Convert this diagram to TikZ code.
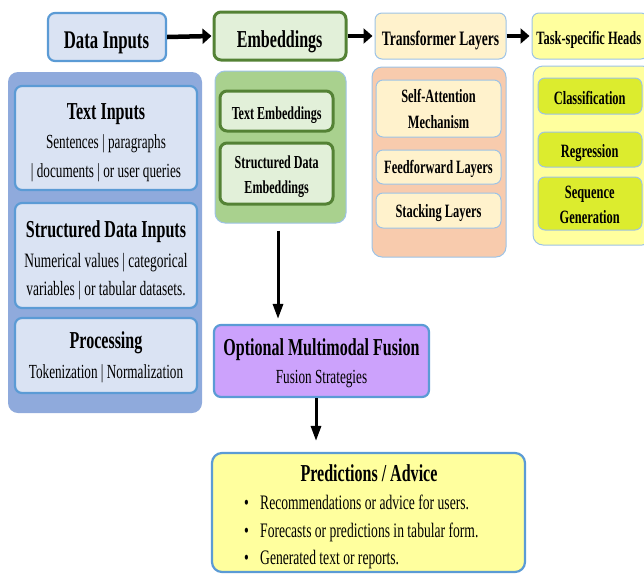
\documentclass[tikz,border=0pt]{standalone}
\usepackage{fontspec}
\setmainfont[FakeStretch=0.66]{Liberation Serif}
\usetikzlibrary{arrows.meta}

\definecolor{blueFill}{HTML}{DAE3F3}
\definecolor{blueLine}{HTML}{5B9BD5}
\definecolor{blueGroup}{HTML}{8FAADC}
\definecolor{paleLine}{HTML}{9DC3E6}
\definecolor{greenFill}{HTML}{E2F0D9}
\definecolor{greenLine}{HTML}{548235}
\definecolor{greenGroup}{HTML}{A9D18E}
\definecolor{creamFill}{HTML}{FFF2CC}
\definecolor{peachGroup}{HTML}{F8CBAD}
\definecolor{lemonFill}{HTML}{FFFF9E}
\definecolor{limeFill}{HTML}{DCEC2E}
\definecolor{violetFill}{HTML}{CCA2FC}

\tikzset{
  box/.style={rounded corners=7pt, inner sep=0pt},
  group/.style={rounded corners=10pt, inner sep=0pt},
  bluebox/.style={box, fill=blueFill, draw=blueLine, line width=2.2pt},
  greenbox/.style={box, fill=greenFill, draw=greenLine, line width=3pt},
  creambox/.style={box, fill=creamFill, draw=paleLine, line width=1pt},
  limebox/.style={box, fill=limeFill, draw=paleLine, line width=1pt},
  % text lines, placed by their baseline
  txt/.style={anchor=base, inner sep=0pt},
  ttl/.style={txt, font=\fontsize{24.3}{28}\selectfont\bfseries},
  sub/.style={txt, font=\fontsize{20}{28}\selectfont},
  sml/.style={txt, font=\fontsize{18.8}{25}\selectfont\bfseries},
  bullet/.style={anchor=base west, inner sep=0pt, font=\fontsize{20.6}{28}\selectfont},
  flow/.style={line width=4.5pt, -{Triangle[length=9pt,width=15pt]}},
  down/.style={line width=3pt, -{Triangle[length=15pt,width=10pt]}},
}

\begin{document}
\begin{tikzpicture}[x=1pt, y=-1pt]
\useasboundingbox (0,0) rectangle (644,574);

% top row of stage headers
\node[box, fill=blueFill, draw=blueLine, line width=2.2pt,
  minimum width=118pt, minimum height=48pt] (datain) at (107,37) {};
\node[txt, font=\fontsize{25.4}{28}\selectfont\bfseries] (datain-t) at (106.5,48) {Data Inputs};
\node[box, fill=greenFill, draw=greenLine, line width=3pt,
  minimum width=132pt, minimum height=48pt] (emb) at (280,36) {};
\node[txt, font=\fontsize{24.3}{28}\selectfont\bfseries] (emb-t) at (279.7,47) {Embeddings};
\node[box, fill=creamFill, draw=paleLine, line width=1pt,
  minimum width=131pt, minimum height=46pt] (trans) at (440.5,36) {};
\node[txt, font=\fontsize{20.5}{24}\selectfont\bfseries] (trans-t) at (440.5,45) {Transformer Layers};
\node[box, fill=lemonFill, draw=paleLine, line width=1pt,
  minimum width=116pt, minimum height=46pt] (task) at (590,36) {};
\node[txt, font=\fontsize{18.8}{24}\selectfont\bfseries] (task-t) at (588.8,44.5) {Task-specific Heads};

% data inputs group
\node[group, fill=blueGroup, minimum width=194pt, minimum height=341pt] (leftc) at (105,242.5) {};
\node[bluebox, minimum width=182pt, minimum height=104pt] (textin) at (106,138) {};
\node[ttl] (textin-t) at (106,119) {Text Inputs};
\node[sub] (textin-1) at (106,148) {Sentences | paragraphs};
\node[sub] (textin-2) at (106,177) {| documents | or user queries};
\node[bluebox, minimum width=182pt, minimum height=105pt] (structin) at (106,255.5) {};
\node[ttl] (structin-t) at (106,237) {Structured Data Inputs};
\node[sub, font=\fontsize{20.4}{28}\selectfont] (structin-1) at (106,267) {Numerical values | categorical};
\node[sub, font=\fontsize{20.4}{28}\selectfont] (structin-2) at (106,295) {variables | or tabular datasets.};
\node[bluebox, minimum width=182pt, minimum height=75pt] (proc) at (106,355.5) {};
\node[ttl] (proc-t) at (106,348) {Processing};
\node[sub] (proc-1) at (106,378) {Tokenization | Normalization};

% embeddings group
\node[group, fill=greenGroup, draw=paleLine, line width=1pt,
  minimum width=131pt, minimum height=152pt] (embc) at (280.5,147) {};
\node[greenbox, minimum width=113pt, minimum height=40pt] (textemb) at (276.5,111) {};
\node[sml, font=\fontsize{18.3}{25}\selectfont\bfseries] (textemb-t) at (276.7,119) {Text Embeddings};
\node[greenbox, minimum width=113pt, minimum height=61pt] (structemb) at (276.5,173.5) {};
\node[sml, font=\fontsize{18.3}{25}\selectfont\bfseries] (structemb-1) at (276.7,168) {Structured Data};
\node[sml, font=\fontsize{18.3}{25}\selectfont\bfseries] (structemb-2) at (276.7,193) {Embeddings};

% transformer group
\node[group, fill=peachGroup, draw=paleLine, line width=1pt,
  minimum width=134pt, minimum height=190pt] (transc) at (439,162) {};
\node[creambox, minimum width=125pt, minimum height=57pt] (selfatt) at (438.5,108.5) {};
\node[sml] (selfatt-1) at (438.5,102) {Self-Attention};
\node[sml] (selfatt-2) at (438.5,128) {Mechanism};
\node[creambox, minimum width=125pt, minimum height=34pt] (ffwd) at (438.5,167) {};
\node[sml] (ffwd-t) at (438.5,173) {Feedforward Layers};
\node[creambox, minimum width=125pt, minimum height=35pt] (stack) at (438.5,210.5) {};
\node[sml] (stack-t) at (438.5,217) {Stacking Layers};

% task heads group
\node[group, fill=lemonFill, draw=paleLine, line width=1pt,
  minimum width=119pt, minimum height=179pt] (taskc) at (592.5,155.5) {};
\node[limebox, minimum width=104pt, minimum height=36pt] (classif) at (590,96) {};
\node[sml] (classif-t) at (589.7,104) {Classification};
\node[limebox, minimum width=104pt, minimum height=35pt] (regr) at (590,149.5) {};
\node[sml] (regr-t) at (589.7,157) {Regression};
\node[limebox, minimum width=104pt, minimum height=53pt] (seqgen) at (590,203.5) {};
\node[sml] (seqgen-1) at (589.7,198) {Sequence};
\node[sml] (seqgen-2) at (589.7,223) {Generation};

% fusion
\node[box, fill=violetFill, draw=blueLine, line width=2.2pt,
  minimum width=215pt, minimum height=72pt] (fusion) at (321.5,361) {};
\node[ttl] (fusion-t) at (321.5,355) {Optional Multimodal Fusion};
\node[sub] (fusion-1) at (321.5,383) {Fusion Strategies};

% predictions
\node[group, fill=lemonFill, draw=blueLine, line width=2.2pt,
  minimum width=313pt, minimum height=119pt] (pred) at (368.5,512.5) {};
\node[ttl] (pred-t) at (369,481) {Predictions / Advice};
\node[bullet] (b1) at (244,509) {\makebox[16pt][l]{\textbullet}Recommendations or advice for users.};
\node[bullet] (b2) at (244,537) {\makebox[16pt][l]{\textbullet}Forecasts or predictions in tabular form.};
\node[bullet] (b3) at (244,564) {\makebox[16pt][l]{\textbullet}Generated text or reports.};

% connectors
\draw[flow] (datain.east) -- ([xshift=-1pt]emb.west);
\draw[flow] (emb.east) -- ([xshift=-2pt]trans.west);
\draw[flow] (trans.east) -- ([xshift=-2pt]task.west);
\draw[down, shorten <=7pt, shorten >=5pt]
  ([xshift=-2.5pt]embc.south) -- ([xshift=-2.5pt]embc.south |- fusion.north);
\draw[down, shorten >=11pt]
  ([xshift=-5.5pt]fusion.south) -- ([xshift=-5.5pt]fusion.south |- pred.north);
\end{tikzpicture}
\end{document}
